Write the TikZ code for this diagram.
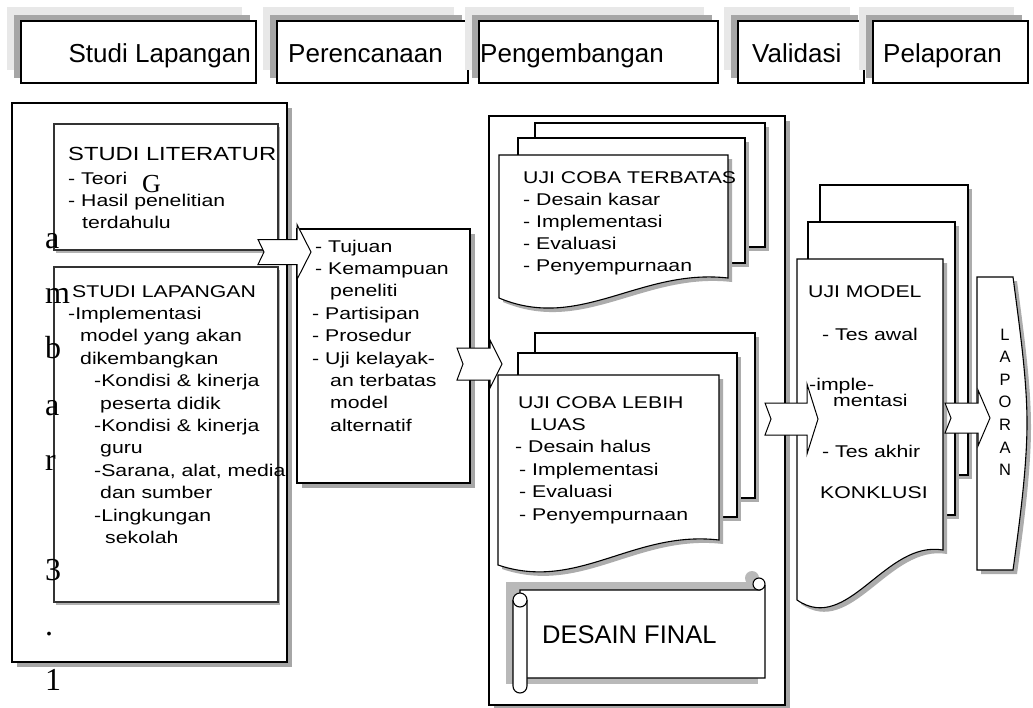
\documentclass[tikz,border=0pt]{standalone}
\usepackage{fontspec}
\setmainfont{Liberation Sans}
\newfontfamily\bodyfont[FakeStretch=1.25]{Liberation Sans}
\newfontfamily\gamfont{Liberation Serif}
\usetikzlibrary{calc,shadows}

\tikzset{
  headbox/.style={draw=black, line width=1.5pt, fill=white},
  headtxt/.style={font=\fontsize{26}{30}\selectfont, inner sep=0pt},
  frame/.style={draw=black, line width=1.6pt, fill=white,
    drop shadow={shadow xshift=5pt, shadow yshift=-5pt, fill=gray!70, opacity=1}},
  inbox/.style={draw=black!80, line width=1.1pt, fill=white,
    drop shadow={shadow xshift=2pt, shadow yshift=-3pt, fill=gray!60, opacity=1}},
  page/.style={draw=black, line width=1.1pt, fill=white,
    drop shadow={shadow xshift=4pt, shadow yshift=-4pt, fill=gray!65, opacity=1}},
  blockarrow/.style={draw=black, line width=1pt, fill=white},
  scroll/.style={draw=black, line width=1.1pt, fill=white},
  txt/.style={font=\bodyfont\fontsize{17}{22.4}\selectfont, align=left, inner sep=0pt, anchor=base west},
  gam/.style={font=\gamfont\fontsize{32}{36}\selectfont, inner sep=0pt, anchor=base west},
}

% panah blok bertakik: #1 ekor, #2 ujung, #3 setengah badan, #4 setengah kepala, #5 panjang kepala
\newcommand{\notcharrow}[5]{%
  \draw[blockarrow] let \p1=(#1), \p2=(#2) in
    (\x1,\y1+#3pt) -- (\x2-#5pt,\y1+#3pt) -- (\x2-#5pt,\y1+#4pt) -- (\x2,\y1)
    -- (\x2-#5pt,\y1-#4pt) -- (\x2-#5pt,\y1-#3pt) -- (\x1,\y1-#3pt) -- (\x1+6pt,\y1) -- cycle;}

\begin{document}
\begin{tikzpicture}[x=1pt, y=-1pt]
\useasboundingbox (0,0) rectangle (1033,707);

% kotak tahap di atas
\foreach \l/\r in {21/256, 277/468, 479/718, 738/864, 873/1028}{
  \fill[gray!18] (\l-14,7) rectangle (\r-14,70);
  \fill[gray!70] (\l-7,15) rectangle (\r-6,78);
  \draw[headbox] (\l,21) rectangle (\r,83);
}
\node[headtxt, anchor=base east] (hstudi) at (251,62) {Studi Lapangan};
\node[headtxt, anchor=base west] (hrencana) at (288,62) {Perencanaan};
\node[headtxt, anchor=base west] (hkembang) at (480,62) {Pengembangan};
\node[headtxt, anchor=base west] (hvalid) at (752,62) {Validasi};
\node[headtxt, anchor=base west] (hlapor) at (883,62) {Pelaporan};

% studi pendahuluan
\draw[frame] (12,103) rectangle (287,662);
\draw[inbox] (54,124) rectangle (278,250);
\draw[inbox] (54,267) rectangle (278,602);

% perencanaan
\draw[frame] (297,229) rectangle (470,483);

% pengembangan
\draw[frame] (489,116) rectangle (785,705);
\draw[page] (535,123) rectangle (765,247);
\draw[page] (518,138) rectangle (745,263);
\draw[page] (499,155) -- (728,155) -- (728,278) .. controls (640,268) and (580,332) .. (499,298) -- cycle;
\draw[page] (535,333) rectangle (755,498);
\draw[page] (518,353) rectangle (737,517);
\draw[page] (498,375) -- (719,375) -- (719,540) .. controls (633,530) and (578,592) .. (498,565) -- cycle;

% gulungan desain final
\fill[gray!55] (506,582) rectangle (758,684);
\fill[gray!55] (752,578) circle (7);
\draw[scroll] (520,590) -- (760,590) -- (765,586) -- (765,678) -- (520,678) -- cycle;
\draw[scroll] (759,584) circle (6);
\draw[scroll] (513,600) -- (513,686) arc[start angle=180, end angle=0, radius=7] -- (527,600);
\draw[scroll] (520,600) circle (7);
\node[headtxt, font=\fontsize{25.5}{30}\selectfont, anchor=base west] (final) at (542,643) {DESAIN FINAL};

% uji model
\draw[page] (820,185) rectangle (968,475);
\draw[page] (808,222) rectangle (955,515);
\draw[page] (797,259) -- (943,259) -- (943,550) .. controls (885,540) and (848,635) .. (797,600) -- cycle;

% laporan
\draw[page] (977,277) -- (1013,277) .. controls (1020,330) and (1027,380) .. (1027,423)
  .. controls (1027,466) and (1020,520) .. (1013,570) -- (977,570) -- cycle;

% panah
\coordinate (a1t) at (258,252);  \coordinate (a1h) at (311,252);
\coordinate (a2t) at (457,364);  \coordinate (a2h) at (502,364);
\coordinate (a3t) at (765,419);  \coordinate (a3h) at (818,419);
\coordinate (a4t) at (945,418);  \coordinate (a4h) at (990,418);
\notcharrow{a1t}{a1h}{12.5}{27.5}{14}
\notcharrow{a2t}{a2h}{16}{24}{12}
\notcharrow{a3t}{a3h}{16}{35}{11}
\notcharrow{a4t}{a4h}{15}{28}{12}

% isi kotak (titik acuan = garis dasar baris terakhir)
\node[txt, font=\bodyfont\fontsize{19}{22}\selectfont] (lit) at (68,160) {STUDI LITERATUR};
\node[txt] (litisi) at (68,228.8) {- Teori\\- Hasil penelitian\\\hspace*{14pt}terdahulu};
\node[txt] (lap) at (68,543.4) {\hspace*{4pt}STUDI LAPANGAN\\-Implementasi\\\hspace*{12pt}model yang akan\\\hspace*{12pt}dikembangkan\\\hspace*{26pt}-Kondisi \& kinerja\\\hspace*{32pt}peserta didik\\\hspace*{26pt}-Kondisi \& kinerja\\\hspace*{32pt}guru\\\hspace*{26pt}-Sarana, alat, media\\\hspace*{32pt}dan sumber\\\hspace*{26pt}-Lingkungan\\\hspace*{37pt}sekolah};
\node[txt] (rencana) at (312,431.2) {\hspace*{3pt}- Tujuan\\\hspace*{3pt}- Kemampuan\\\hspace*{18pt}peneliti\\- Partisipan\\- Prosedur\\- Uji kelayak-\\\hspace*{18pt}an terbatas\\\hspace*{18pt}model\\\hspace*{18pt}alternatif};
\node[txt, font=\bodyfont\fontsize{17}{22}\selectfont] (terbatas) at (523,271) {UJI COBA TERBATAS\\- Desain kasar\\- Implementasi\\- Evaluasi\\- Penyempurnaan};
\node[txt] (luas) at (515,520) {\hspace*{3pt}UJI COBA LEBIH\\\hspace*{15pt}LUAS\\- Desain halus\\\hspace*{4pt}- Implementasi\\\hspace*{4pt}- Evaluasi\\\hspace*{4pt}- Penyempurnaan};
\node[txt] (ujimodel) at (808,297) {UJI MODEL};
\node[txt] (tesawal) at (822,340) {- Tes awal};
\node[txt, font=\bodyfont\fontsize{17}{16}\selectfont] (imple) at (809,406) {-imple-\\\hspace*{24pt}mentasi};
\node[txt] (tesakhir) at (822,457) {- Tes akhir};
\node[txt] (konklusi) at (820,498) {KONKLUSI};
\node[font=\fontsize{16.5}{22.6}\selectfont, align=center, inner sep=0pt, anchor=base] (lapor) at (1005,475.6) {L\\A\\P\\O\\R\\A\\N};

% huruf lepas
\node[gam, font=\gamfont\fontsize{26}{30}\selectfont] (gG) at (142,192) {G};
\foreach \c/\y [count=\i] in {a/248, m/303, b/358, a/415, r/470, 3/580, ./635, 1/690}
  \node[gam] (g\i) at (45,\y) {\c};
\end{tikzpicture}
\end{document}
